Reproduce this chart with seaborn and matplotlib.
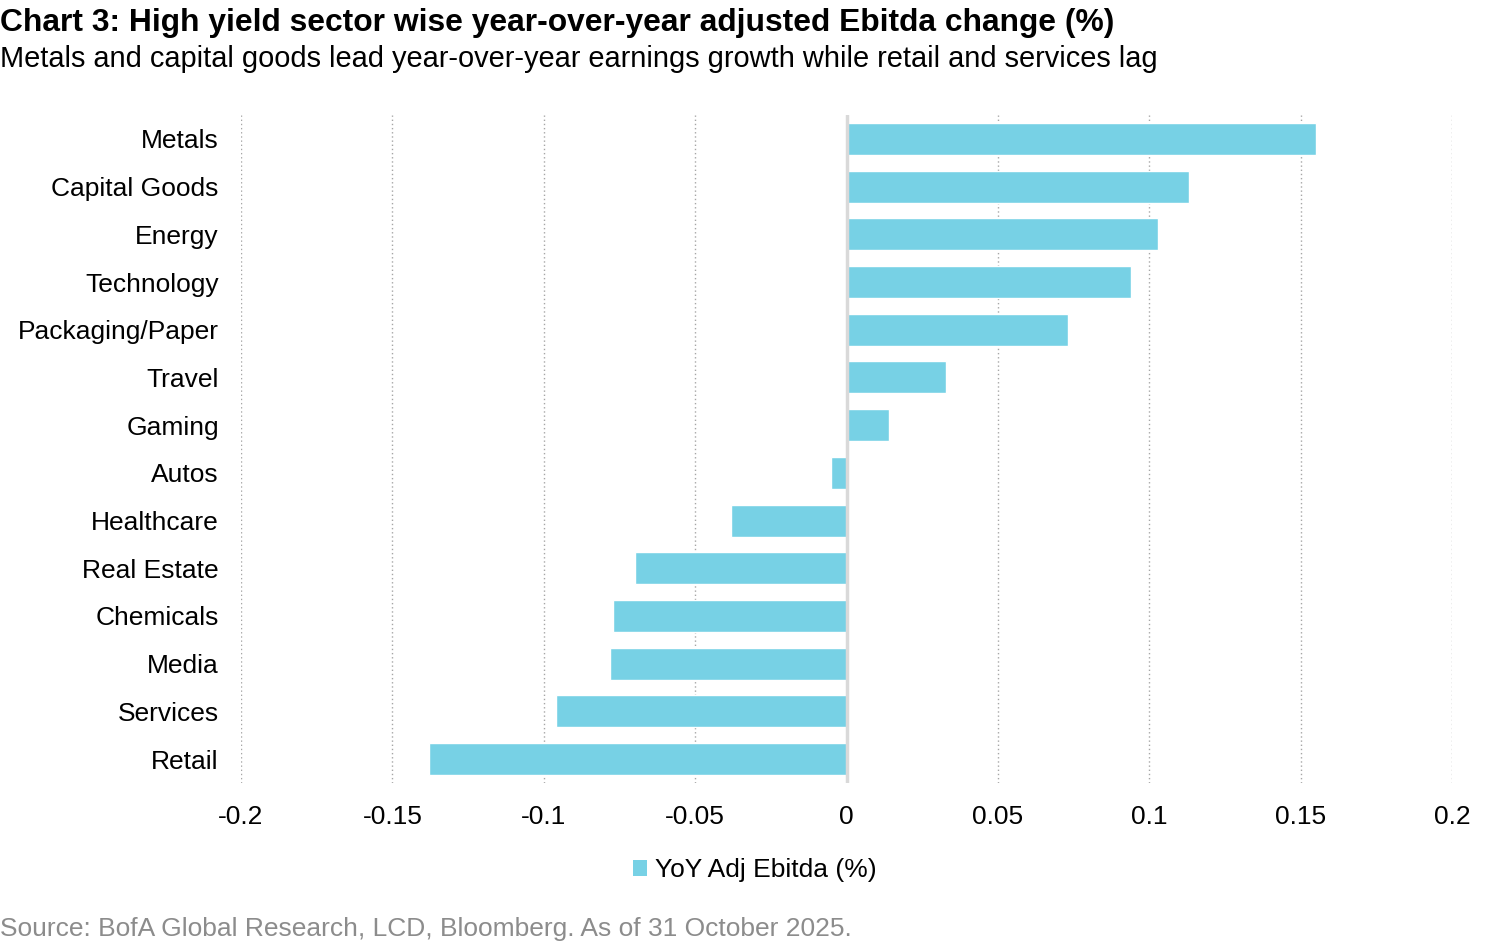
import pandas as pd
import matplotlib.pyplot as plt
import seaborn as sns
from matplotlib.patches import Patch

# data
sectors = ['Metals', 'Capital Goods', 'Energy', 'Technology', 'Packaging/Paper',
           'Travel', 'Gaming', 'Autos', 'Healthcare', 'Real Estate',
           'Chemicals', 'Media', 'Services', 'Retail']
yoy_change = [0.155, 0.113, 0.103, 0.094, 0.073, 0.033, 0.014, -0.005,
              -0.038, -0.070, -0.077, -0.078, -0.096, -0.138]
x_ticks = [-0.2, -0.15, -0.1, -0.05, 0, 0.05, 0.1, 0.15, 0.2]
x_labels = ['-0.2', '-0.15', '-0.1', '-0.05', '0', '0.05', '0.1', '0.15', '0.2']

df = pd.DataFrame({'sector': sectors, 'value': yoy_change})

sns.set_style('white')
plt.rcParams['font.family'] = ['Liberation Sans', 'DejaVu Sans']
plt.rcParams['text.color'] = 'black'
plt.rcParams['xtick.color'] = 'black'
plt.rcParams['ytick.color'] = 'black'

bar_color = '#77D1E5'

fig = plt.figure(figsize=(15, 9.42), dpi=100)
ax = fig.add_axes([0.1607, 0.1688, 0.8073, 0.7091])

sns.barplot(data=df, x='value', y='sector', orient='h', color=bar_color,
            saturation=1, width=0.67, edgecolor='white', linewidth=1, ax=ax)

ax.set_xlim(-0.2, 0.2)
ax.set_ylim(13.5, -0.5)
ax.set_xticks(x_ticks)
ax.set_xticklabels(x_labels, fontsize=19)
ax.tick_params(axis='y', labelsize=19, length=0, pad=16)
ax.tick_params(axis='x', length=0, pad=16)
ax.set_xlabel('')
ax.set_ylabel('')

for t in x_ticks:
    if t != 0:
        ax.axvline(t, color='#a6a6a6', linestyle=(0, (1, 2)), linewidth=1, zorder=0)
ax.axvline(0, color='#d9d9d9', linewidth=2.5, zorder=3)

for s in ax.spines.values():
    s.set_visible(False)

ax.legend(handles=[Patch(facecolor=bar_color, edgecolor='none', label='YoY Adj Ebitda (%)')],
          loc='center', bbox_to_anchor=(755 / 1500, 1 - 870 / 942),
          bbox_transform=fig.transFigure, frameon=False, fontsize=19,
          handlelength=0.55, handleheight=0.55, handletextpad=0.3)

fig.text(0.0, 1 - 23 / 942, 'Chart 3: High yield sector wise year-over-year adjusted Ebitda change (%)',
         fontsize=22.9, fontweight='bold', va='center', ha='left')
fig.text(0.0, 1 - 59 / 942, 'Metals and capital goods lead year-over-year earnings growth while retail and services lag',
         fontsize=20.9, va='center', ha='left')
fig.text(0.0, 1 - 929 / 942, 'Source: BofA Global Research, LCD, Bloomberg. As of 31 October 2025.',
         fontsize=19, va='center', ha='left', color='#8c8c8c')

fig.savefig('out.png', dpi=100)
